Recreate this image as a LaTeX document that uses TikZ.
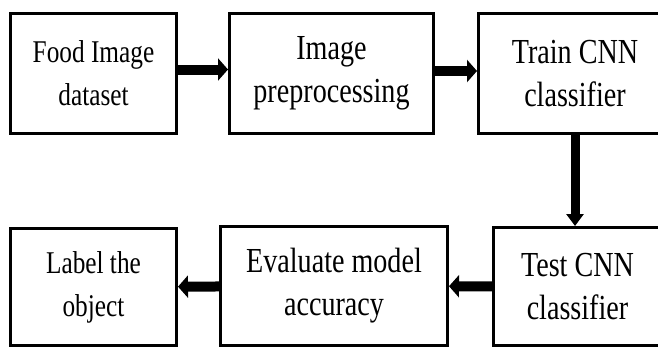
\documentclass[tikz,border=0pt]{standalone}
\usepackage{fontspec}
\setmainfont{Liberation Serif}[FakeStretch=0.8]
\usetikzlibrary{arrows.meta}

\begin{document}
\begin{tikzpicture}[
        box/.style={draw, line width=0.06cm, minimum height=2.4cm, align=center, inner sep=0pt},
        small/.style={font=\fontsize{18}{24.5}\selectfont},
        large/.style={font=\fontsize{20}{24.5}\selectfont},
        flow/.style={line width=0.2cm, -{Triangle[length=0.2cm, width=0.44cm]}}]
                \useasboundingbox (0,0) rectangle (13.16,7);
                \clip (0,0) rectangle (13.16,7);
                \node[box, small, minimum width=3.32cm] (food) at (1.87,5.53) {Food Image\\dataset};
                \node[box, large, minimum width=4.08cm] (prep) at (6.63,5.53) {Image\\preprocessing};
                \node[box, large, minimum width=3.86cm] (train) at (11.5,5.53) {Train CNN\\classifier};
                \node[box, large, minimum width=3.36cm, minimum height=2.36cm] (test) at (11.55,1.27) {Test CNN\\classifier};
                \node[box, large, minimum width=4.54cm, minimum height=2.38cm] (eval) at (6.68,1.28) {Evaluate model\\accuracy};
                \node[box, small, minimum width=3.32cm, minimum height=2.34cm] (label) at (1.87,1.26) {Label the\\object};
                \draw[flow] ([yshift=0.08cm]food.east) -- ([yshift=0.08cm]prep.west);
                \draw[flow] ([yshift=0.05cm]prep.east) -- ([yshift=0.05cm]train.west);
                \draw[line width=0.18cm, -{Triangle[length=0.24cm, width=0.34cm]}] (train.south) -- (train.south |- test.north);
                \draw[flow] (test) -- (eval);
                \draw[flow] (eval) -- (label);
            \end{tikzpicture}
\end{document}
